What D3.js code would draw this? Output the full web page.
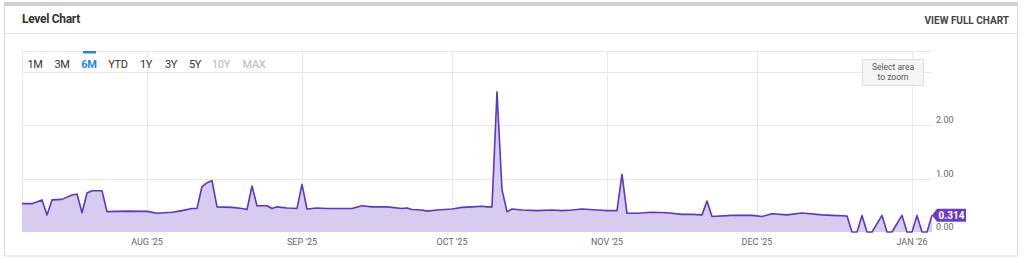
<!DOCTYPE html>
<html lang="en">
<head>
<meta charset="utf-8">
<title>Level Chart</title>
<script src="https://d3js.org/d3.v7.min.js"></script>
<style>
  body { margin: 0; background: #fff; font-family: Roboto, "Liberation Sans", sans-serif; }
  svg text { font-family: Roboto, "Liberation Sans", sans-serif; }
</style>
</head>
<body>
<script>
// daily level readings
const dates = [
  "2025-07-07","2025-07-09","2025-07-11","2025-07-12","2025-07-13","2025-07-15","2025-07-17","2025-07-18",
  "2025-07-19","2025-07-20","2025-07-21","2025-07-23","2025-07-24","2025-07-28","2025-08-01","2025-08-03",
  "2025-08-06","2025-08-08","2025-08-10","2025-08-11","2025-08-12","2025-08-13","2025-08-14","2025-08-15",
  "2025-08-18","2025-08-20","2025-08-21","2025-08-22","2025-08-23","2025-08-25","2025-08-26","2025-08-27",
  "2025-08-29","2025-08-31","2025-09-01","2025-09-02","2025-09-04","2025-09-06","2025-09-11","2025-09-13",
  "2025-09-15","2025-09-18","2025-09-21","2025-09-22","2025-09-23","2025-09-25","2025-09-26","2025-09-28",
  "2025-10-01","2025-10-03","2025-10-05","2025-10-07","2025-10-08","2025-10-09","2025-10-10","2025-10-11",
  "2025-10-12","2025-10-13","2025-10-15","2025-10-18","2025-10-21","2025-10-23","2025-10-25","2025-10-27",
  "2025-10-30","2025-11-01","2025-11-03","2025-11-04","2025-11-05","2025-11-07","2025-11-10","2025-11-13",
  "2025-11-16","2025-11-18","2025-11-20","2025-11-21","2025-11-22","2025-11-26","2025-11-30","2025-12-02",
  "2025-12-04","2025-12-07","2025-12-10","2025-12-14","2025-12-16","2025-12-19","2025-12-20","2025-12-21",
  "2025-12-22","2025-12-23","2025-12-24","2025-12-26","2025-12-27","2025-12-28","2025-12-30","2025-12-31",
  "2026-01-01","2026-01-02","2026-01-03","2026-01-04","2026-01-05"
];
const levels = [
  0.53,0.53,0.60,0.32,0.60,0.61,0.69,0.71,
  0.36,0.73,0.77,0.77,0.38,0.39,0.385,0.35,
  0.37,0.40,0.44,0.44,0.85,0.92,0.96,0.47,
  0.46,0.44,0.42,0.86,0.49,0.49,0.44,0.47,
  0.45,0.44,0.89,0.43,0.45,0.44,0.44,0.49,
  0.47,0.47,0.44,0.45,0.42,0.41,0.39,0.41,
  0.43,0.46,0.47,0.48,0.47,0.47,2.62,0.79,
  0.38,0.43,0.41,0.40,0.41,0.40,0.41,0.43,
  0.41,0.40,0.40,1.08,0.35,0.35,0.37,0.36,
  0.33,0.33,0.32,0.58,0.29,0.31,0.31,0.29,
  0.34,0.32,0.355,0.32,0.31,0.30,0,0,
  0.31,0,0,0.31,0,0,0.31,0,
  0,0.31,0,0,0.314
];
const monthTicks = ["2025-08-01","2025-09-01","2025-10-01","2025-11-01","2025-12-01","2026-01-01"];
const yTicks = [0, 1, 2];
const yGrid = [1, 2, 3];
const ranges = ["1M","3M","6M","YTD","1Y","3Y","5Y","10Y","MAX"];
const rangeActive = "6M";
const rangeDisabled = ["10Y","MAX"];
const lastValue = "0.314";

const w = 1024, h = 263;
const parse = d3.utcParse("%Y-%m-%d");
const data = dates.map((d, i) => ({ date: parse(d), v: levels[i] }));

const plotLeft = 22, plotRight = 932, plotTop = 51, plotBottom = 232;

const x = d3.scaleUtc()
  .domain([parse("2025-07-07"), parse("2026-01-05")])
  .range([plotLeft, plotRight]);
const y = d3.scaleLinear()
  .domain([0, 3])
  .range([plotBottom, plotBottom - 3 * 53.5]);

const svg = d3.select("body").append("svg")
  .attr("width", w)
  .attr("height", h);

// card
svg.append("rect").attr("x", 4.5).attr("y", 5.5).attr("width", 1013).attr("height", 250.5)
  .attr("fill", "#fff").attr("stroke", "#dcdcdc");
svg.append("rect").attr("x", 4).attr("y", 2).attr("width", 1014).attr("height", 4).attr("fill", "#cfcfcf");
svg.append("line").attr("x1", 5).attr("x2", 1017).attr("y1", 33.5).attr("y2", 33.5).attr("stroke", "#e2e2e2");

svg.append("text").attr("x", 22).attr("y", 23)
  .attr("font-size", "12px").attr("font-weight", "bold").attr("fill", "#333")
  .attr("letter-spacing", "-0.3px")
  .text("Level Chart");
svg.append("text").attr("x", 1009).attr("y", 24)
  .attr("text-anchor", "end").attr("font-size", "10px").attr("font-weight", "bold").attr("fill", "#444")
  .text("VIEW FULL CHART");

// grid
const grid = svg.append("g").attr("stroke", "#e8e8e8").attr("shape-rendering", "crispEdges");
grid.selectAll("line.h").data(yGrid).enter().append("line")
  .attr("x1", plotLeft).attr("x2", plotRight)
  .attr("y1", d => Math.round(y(d)) + 0.5).attr("y2", d => Math.round(y(d)) + 0.5);
grid.append("line").attr("x1", plotLeft).attr("x2", plotRight).attr("y1", plotTop + 0.5).attr("y2", plotTop + 0.5);
grid.append("line").attr("x1", plotLeft + 0.5).attr("x2", plotLeft + 0.5).attr("y1", plotTop).attr("y2", plotBottom);
grid.selectAll("line.v").data(monthTicks).enter().append("line")
  .attr("x1", d => Math.round(x(parse(d))) + 0.5).attr("x2", d => Math.round(x(parse(d))) + 0.5)
  .attr("y1", plotTop).attr("y2", plotBottom);

// area + line
const area = d3.area()
  .x(d => x(d.date)).y0(y(0)).y1(d => y(d.v));
const line = d3.line()
  .x(d => x(d.date)).y(d => y(d.v));

svg.append("path").datum(data)
  .attr("d", area).attr("fill", "#d8cbf0");
svg.append("path").datum(data)
  .attr("d", line).attr("fill", "none")
  .attr("stroke", "#5f37c0").attr("stroke-width", 1.6).attr("stroke-linejoin", "round");

// x axis labels
const fmtMonth = d => d3.utcFormat("%b")(d).toUpperCase() + " '" + d3.utcFormat("%y")(d);
svg.selectAll("text.xl").data(monthTicks).enter().append("text")
  .attr("x", d => x(parse(d)))
  .attr("y", 245)
  .attr("text-anchor", "middle").attr("font-size", "9px").attr("fill", "#666")
  .text(d => fmtMonth(parse(d)));

// y axis labels
svg.selectAll("text.yl").data(yTicks).enter().append("text")
  .attr("x", 936)
  .attr("y", d => y(d) - 2)
  .attr("font-size", "9px").attr("fill", "#666")
  .text(d => d3.format(".2f")(d));

// range selector
const rx = [35, 62, 89, 118, 146, 171, 195, 221, 254];
svg.selectAll("text.rg").data(ranges).enter().append("text")
  .attr("x", (d, i) => rx[i]).attr("y", 68)
  .attr("text-anchor", "middle").attr("font-size", "11px")
  .attr("font-weight", d => d === rangeActive ? "bold" : "normal")
  .attr("letter-spacing", "-0.3px")
  .attr("fill", d => d === rangeActive ? "#1e88e5" : rangeDisabled.includes(d) ? "#b8b8b8" : "#333")
  .text(d => d);
svg.append("rect").attr("x", 83).attr("y", 51).attr("width", 13).attr("height", 2.5).attr("fill", "#1e88e5");

// select area box
svg.append("rect").attr("x", 862.5).attr("y", 59.5).attr("width", 61).attr("height", 26)
  .attr("fill", "#f5f5f5").attr("stroke", "#dedede");
svg.append("text").attr("x", 893).attr("y", 70).attr("text-anchor", "middle")
  .attr("font-size", "8.5px").attr("fill", "#555").text("Select area");
svg.append("text").attr("x", 893).attr("y", 80).attr("text-anchor", "middle")
  .attr("font-size", "8.5px").attr("fill", "#555").text("to zoom");

// last value badge
const last = data[data.length - 1];
const bx = x(last.date), by = y(last.v);
svg.append("path")
  .attr("d", `M${bx},${by} L${bx + 5},${by - 6.5} L${bx + 34},${by - 6.5} L${bx + 34},${by + 6.5} L${bx + 5},${by + 6.5} Z`)
  .attr("fill", "#6a3cc6");
svg.append("text").attr("x", bx + 19.5).attr("y", by + 3.5)
  .attr("text-anchor", "middle").attr("font-size", "10px").attr("font-weight", "bold").attr("fill", "#fff")
  .text(lastValue);
</script>
</body>
</html>
